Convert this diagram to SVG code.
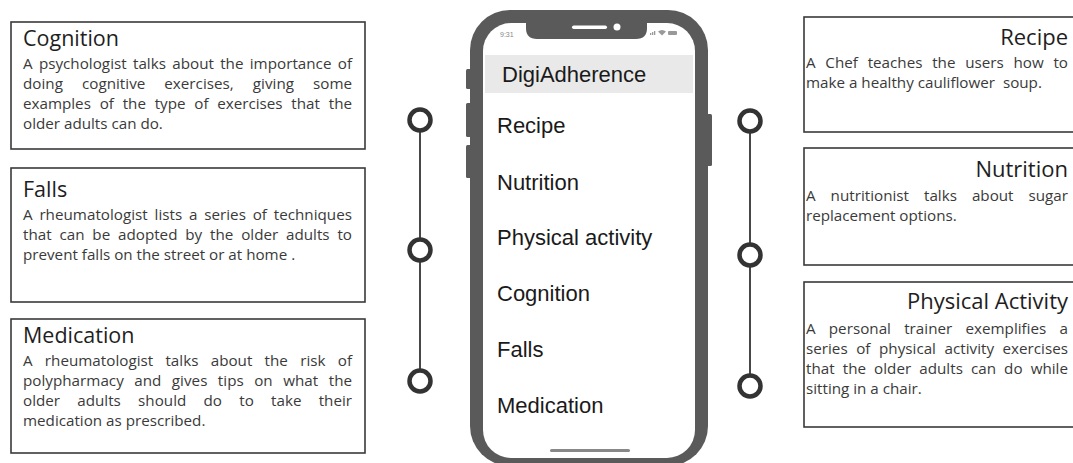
<svg xmlns="http://www.w3.org/2000/svg" width="1073" height="463" viewBox="0 0 1073 463">
<style>
.box{fill:#fff;stroke:#3a3a3a;stroke-width:1.6}
.ttl{font-family:"Open Sans",sans-serif;font-size:21.5px;fill:#1e1e1e}
.ttr{font-family:"Open Sans",sans-serif;font-size:22px;fill:#1e1e1e}
.bd{font-family:"Open Sans",sans-serif;font-size:15.2px;fill:#3a3a3a}
.menu{font-family:"Liberation Sans",Arial,sans-serif;font-size:22px;fill:#1a1a1a}
.ring{fill:#fff;stroke:#333;stroke-width:4.5}
.tl{stroke:#333;stroke-width:1.8}
</style>
<rect width="1073" height="463" fill="#fff"/>

<g id="connectors">
  <line class="tl" x1="420" y1="120" x2="420" y2="381"/>
  <line class="tl" x1="750" y1="121" x2="750" y2="386"/>
  <circle class="ring" cx="420" cy="120" r="10.5"/>
  <circle class="ring" cx="420" cy="250" r="10.5"/>
  <circle class="ring" cx="420" cy="381" r="10.5"/>
  <circle class="ring" cx="750" cy="121" r="10.5"/>
  <circle class="ring" cx="750" cy="255" r="10.5"/>
  <circle class="ring" cx="750" cy="386" r="10.5"/>
</g>

<g id="cognition">
  <rect class="box" x="11" y="22" width="354" height="127"/>
  <text class="ttl" x="23" y="46">Cognition</text>
  <text class="bd" x="23" y="69" word-spacing="2.3" textLength="329" lengthAdjust="spacing">A psychologist talks about the importance of</text>
  <text class="bd" x="23" y="89" word-spacing="15" textLength="329" lengthAdjust="spacing">doing cognitive exercises, giving some</text>
  <text class="bd" x="23" y="109" word-spacing="4.8" textLength="329" lengthAdjust="spacing">examples of the type of exercises that the</text>
  <text class="bd" x="23" y="129">older adults can do.</text>
</g>

<g id="falls">
  <rect class="box" x="11" y="168" width="354" height="134"/>
  <text class="ttl" x="23" y="197">Falls</text>
  <text class="bd" x="23" y="220" word-spacing="2.8" textLength="329" lengthAdjust="spacing">A rheumatologist lists a series of techniques</text>
  <text class="bd" x="23" y="240" word-spacing="3.9" textLength="329" lengthAdjust="spacing">that can be adopted by the older adults to</text>
  <text class="bd" x="23" y="260">prevent falls on the street or at home .</text>
</g>

<g id="medication">
  <rect class="box" x="11" y="319" width="354" height="134"/>
  <text class="ttl" x="23" y="343">Medication</text>
  <text class="bd" x="23" y="366" word-spacing="8.3" textLength="329" lengthAdjust="spacing">A rheumatologist talks about the risk of</text>
  <text class="bd" x="23" y="386" word-spacing="6.5" textLength="329" lengthAdjust="spacing">polypharmacy and gives tips on what the</text>
  <text class="bd" x="23" y="406" word-spacing="13.3" textLength="329" lengthAdjust="spacing">older adults should do to take their</text>
  <text class="bd" x="23" y="426">medication as prescribed.</text>
</g>

<g id="recipe">
  <rect class="box" x="804" y="17" width="280" height="115"/>
  <text class="ttr" x="1068" y="45" text-anchor="end">Recipe</text>
  <text class="bd" x="806" y="68" word-spacing="5.8" textLength="262" lengthAdjust="spacing">A Chef teaches the users how to</text>
  <text class="bd" x="806" y="88" xml:space="preserve">make a healthy cauliflower  soup.</text>
</g>

<g id="nutrition">
  <rect class="box" x="804" y="148" width="280" height="117"/>
  <text class="ttr" x="1068" y="177" text-anchor="end">Nutrition</text>
  <text class="bd" x="806" y="201" word-spacing="11" textLength="262" lengthAdjust="spacing">A nutritionist talks about sugar</text>
  <text class="bd" x="806" y="221">replacement options.</text>
</g>

<g id="physical-activity">
  <rect class="box" x="804" y="282" width="280" height="145"/>
  <text class="ttr" x="1068" y="309" text-anchor="end">Physical Activity</text>
  <text class="bd" x="806" y="334" word-spacing="9.2" textLength="262" lengthAdjust="spacing">A personal trainer exemplifies a</text>
  <text class="bd" x="806" y="354" word-spacing="4.6" textLength="262" lengthAdjust="spacing">series of physical activity exercises</text>
  <text class="bd" x="806" y="374" word-spacing="4.1" textLength="262" lengthAdjust="spacing">that the older adults can do while</text>
  <text class="bd" x="806" y="394">sitting in a chair.</text>
</g>

<g id="phone">
  <rect x="466" y="69" width="6" height="20" rx="1.5" fill="#5a5a5a"/>
  <rect x="466" y="103" width="6" height="34" rx="1.5" fill="#5a5a5a"/>
  <rect x="466" y="145" width="6" height="33" rx="1.5" fill="#5a5a5a"/>
  <rect x="706" y="114" width="6" height="52" rx="1.5" fill="#5a5a5a"/>
  <rect x="470" y="10" width="238" height="456" rx="40" fill="#5a5a5a"/>
  <rect x="483" y="23" width="212" height="435" rx="28" fill="#fff"/>
  <path d="M526 22 L647 22 L647 28 Q647 39 636 39 L537 39 Q526 39 526 28 Z" fill="#5a5a5a"/>
  <rect x="572" y="25.5" width="35" height="3.5" rx="1.75" fill="#fff"/>
  <circle cx="617" cy="27" r="3.5" fill="#fff"/>
  <text x="500" y="37" font-family="Liberation Sans,Arial,sans-serif" font-size="7" fill="#888">9:31</text>
  <g fill="#999">
    <rect x="650" y="33" width="1.3" height="2"/>
    <rect x="652" y="32" width="1.3" height="3"/>
    <rect x="654" y="31" width="1.3" height="4"/>
    <path d="M658 31.5 Q662 28.5 666 31.5 L662 35.5 Z"/>
    <rect x="668" y="31" width="9" height="4" rx="1"/>
  </g>
  <rect x="485" y="55" width="208" height="38" fill="#e9e9e9"/>
  <text class="menu" x="502" y="82" font-size="21">DigiAdherence</text>
  <text class="menu" x="497" y="133">Recipe</text>
  <text class="menu" x="497" y="189.5">Nutrition</text>
  <text class="menu" x="497" y="245">Physical activity</text>
  <text class="menu" x="497" y="301">Cognition</text>
  <text class="menu" x="497" y="357">Falls</text>
  <text class="menu" x="497" y="413">Medication</text>
  <rect x="550" y="449" width="80" height="3" rx="1.5" fill="#888"/>
</g>
</svg>
